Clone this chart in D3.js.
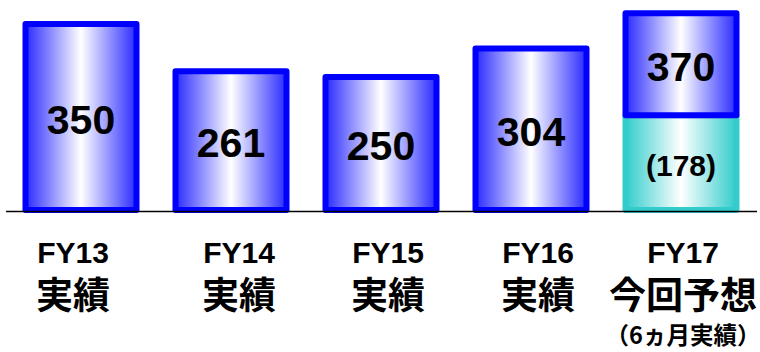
<!DOCTYPE html>
<html>
<head>
<meta charset="utf-8">
<script src="https://cdn.jsdelivr.net/npm/d3@7"></script>
<style>
  html, body { margin: 0; padding: 0; background: #fff; }
  svg { display: block; }
</style>
</head>
<body>
<svg id="chart" width="760" height="352"></svg>
<script>
// Fiscal-year results and the current forecast
const categories = ["FY13", "FY14", "FY15", "FY16", "FY17"];
const subLabels = ["実績", "実績", "実績", "実績", "今回予想"];
const noteLabels = ["", "", "", "", "（6ヵ月実績）"];
const totals = [350, 261, 250, 304, 370];
const firstHalf = [null, null, null, null, 178];

// horizontal nudges for the category text blocks (layout only)
const labelShift = [-8, 8, 7, 7, 2];

const svg = d3.select("#chart");

const x = d3.scaleBand()
  .domain(categories)
  .range([6, 756])
  .paddingInner(0.26)
  .paddingOuter(0.13);

const y = d3.scaleLinear()
  .domain([0, 395])
  .range([210, 0]);

const defs = svg.append("defs");
function hGrad(id, edge) {
  const g = defs.append("linearGradient")
    .attr("id", id)
    .attr("x1", 0).attr("x2", 1).attr("y1", 0).attr("y2", 0);
  g.append("stop").attr("offset", 0).attr("stop-color", edge);
  g.append("stop").attr("offset", 0.5).attr("stop-color", "#ffffff");
  g.append("stop").attr("offset", 1).attr("stop-color", edge);
}
hGrad("gBlue", "#2a2aff");
hGrad("gTeal", "#33cccc");

const rows = categories.map((c, i) => ({
  cat: c, i, total: totals[i], half: firstHalf[i],
  sub: subLabels[i], note: noteLabels[i]
}));

const gBars = svg.append("g");

// lower (first-half actual) segment
gBars.selectAll("rect.half")
  .data(rows.filter(d => d.half != null))
  .join("rect")
  .attr("class", "half")
  .attr("x", d => x(d.cat))
  .attr("width", x.bandwidth())
  .attr("y", d => y(d.half))
  .attr("height", d => y(0) - y(d.half))
  .attr("fill", "url(#gTeal)")
  .attr("stroke", "#33cccc")
  .attr("stroke-width", 6)
  .attr("stroke-linejoin", "round");

// main bars (full year, or the part above the first-half segment)
gBars.selectAll("rect.main")
  .data(rows)
  .join("rect")
  .attr("class", "main")
  .attr("x", d => x(d.cat))
  .attr("width", x.bandwidth())
  .attr("y", d => y(d.total))
  .attr("height", d => (d.half != null ? y(d.half) : y(0)) - y(d.total))
  .attr("fill", "url(#gBlue)")
  .attr("stroke", "#0000ff")
  .attr("stroke-width", 6)
  .attr("stroke-linejoin", "round");

// baseline
svg.append("line")
  .attr("x1", 6).attr("x2", 757)
  .attr("y1", y(0) + 1.5).attr("y2", y(0) + 1.5)
  .attr("stroke", "#000")
  .attr("stroke-width", 1.5);

// value labels
const valFont = 41;
svg.append("g").selectAll("text")
  .data(rows)
  .join("text")
  .attr("x", d => x(d.cat) + x.bandwidth() / 2)
  .attr("y", d => {
    const bottom = d.half != null ? y(d.half) : y(0);
    return (y(d.total) + bottom) / 2 + valFont * 0.358 + 2;
  })
  .attr("text-anchor", "middle")
  .attr("font-family", "'Liberation Sans', Arial, sans-serif")
  .attr("font-weight", "bold")
  .attr("font-size", valFont)
  .attr("fill", "#000")
  .text(d => d.total);

const halfFont = 30;
svg.append("g").selectAll("text")
  .data(rows.filter(d => d.half != null))
  .join("text")
  .attr("x", d => x(d.cat) + x.bandwidth() / 2)
  .attr("y", d => (y(d.half) + y(0)) / 2 + halfFont * 0.358 + 3)
  .attr("text-anchor", "middle")
  .attr("font-family", "'Liberation Sans', Arial, sans-serif")
  .attr("font-weight", "bold")
  .attr("font-size", halfFont)
  .attr("fill", "#000")
  .text(d => `(${d.half})`);

// category labels
const cx = d => x(d.cat) + x.bandwidth() / 2 + labelShift[d.i];
const gLab = svg.append("g");

gLab.selectAll("text.fy")
  .data(rows)
  .join("text")
  .attr("class", "fy")
  .attr("x", cx)
  .attr("y", 263)
  .attr("text-anchor", "middle")
  .attr("font-family", "'Liberation Sans', Arial, sans-serif")
  .attr("font-weight", "bold")
  .attr("font-size", 30)
  .attr("fill", "#000")
  .text(d => d.cat);

gLab.selectAll("text.sub")
  .data(rows)
  .join("text")
  .attr("class", "sub")
  .attr("x", cx)
  .attr("y", 309)
  .attr("text-anchor", "middle")
  .attr("font-family", "'Noto Sans CJK JP', sans-serif")
  .attr("font-weight", "bold")
  .attr("font-size", 37)
  .attr("fill", "#000")
  .text(d => d.sub);

gLab.selectAll("text.note")
  .data(rows.filter(d => d.note))
  .join("text")
  .attr("class", "note")
  .attr("x", cx)
  .attr("y", 344)
  .attr("text-anchor", "middle")
  .attr("font-family", "'Noto Sans CJK JP', sans-serif")
  .attr("font-weight", "bold")
  .attr("font-size", 23.5)
  .attr("fill", "#000")
  .text(d => d.note);
</script>
</body>
</html>
